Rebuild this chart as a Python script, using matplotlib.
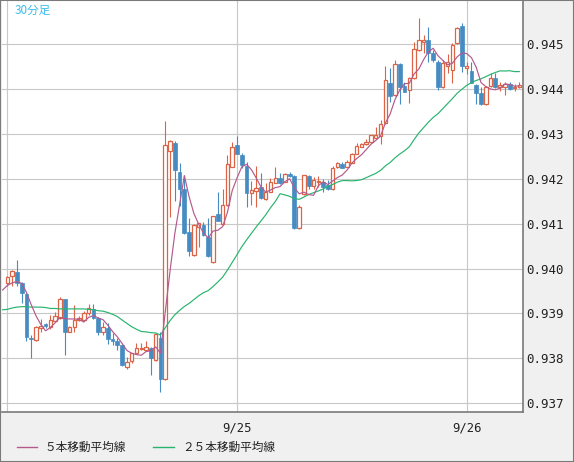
import numpy as np
import pandas as pd
import matplotlib
matplotlib.use('Agg')
import matplotlib.pyplot as plt
from matplotlib.lines import Line2D
from matplotlib.patches import Rectangle

# 30-minute candles (OHLC)
opens = [0.93967, 0.93983, 0.93992, 0.93967, 0.93944, 0.93845, 0.93841, 0.93867, 0.93876, 0.93870,
         0.93884, 0.93889, 0.93931, 0.93859, 0.93869, 0.93886, 0.93885, 0.93901, 0.93910, 0.93889,
         0.93859, 0.93867, 0.93842, 0.93839, 0.93830, 0.93781, 0.93793, 0.93812, 0.93820, 0.93818,
         0.93822, 0.93796, 0.93846, 0.93755, 0.94262, 0.94280, 0.94216, 0.94177, 0.94081, 0.94031,
         0.94092, 0.94098, 0.94071, 0.94015, 0.94121, 0.94099, 0.94141, 0.94227, 0.94275, 0.94253,
         0.94228, 0.94168, 0.94173, 0.94181, 0.94154, 0.94171, 0.94191, 0.94201, 0.94193, 0.94210,
         0.94206, 0.94090, 0.94165, 0.94206, 0.94184, 0.94192, 0.94193, 0.94187, 0.94176, 0.94225,
         0.94233, 0.94226, 0.94236, 0.94255, 0.94271, 0.94277, 0.94281, 0.94290, 0.94295, 0.94323,
         0.94414, 0.94386, 0.94455, 0.94406, 0.94398, 0.94424, 0.94486, 0.94505, 0.94510, 0.94481,
         0.94461, 0.94404, 0.94451, 0.94442, 0.94502, 0.94540, 0.94446, 0.94439, 0.94409, 0.94390,
         0.94366, 0.94406, 0.94424, 0.94404, 0.94404, 0.94410, 0.94403, 0.94404]
highs = [0.93984, 0.93996, 0.94019, 0.93971, 0.93945, 0.93851, 0.93872, 0.93887, 0.93879, 0.93896,
         0.93903, 0.93936, 0.93932, 0.93872, 0.93919, 0.93894, 0.93905, 0.93922, 0.93922, 0.93892,
         0.93881, 0.93878, 0.93856, 0.93845, 0.93831, 0.93804, 0.93812, 0.93833, 0.93833, 0.93839,
         0.93826, 0.93856, 0.93859, 0.94329, 0.94287, 0.94284, 0.94234, 0.94208, 0.94112, 0.94099,
         0.94102, 0.94104, 0.94112, 0.94117, 0.94171, 0.94176, 0.94253, 0.94282, 0.94296, 0.94257,
         0.94237, 0.94194, 0.94229, 0.94212, 0.94190, 0.94202, 0.94225, 0.94212, 0.94212, 0.94216,
         0.94208, 0.94141, 0.94209, 0.94208, 0.94203, 0.94206, 0.94199, 0.94197, 0.94228, 0.94238,
         0.94238, 0.94242, 0.94258, 0.94279, 0.94280, 0.94288, 0.94298, 0.94316, 0.94331, 0.94450,
         0.94446, 0.94464, 0.94457, 0.94416, 0.94427, 0.94505, 0.94557, 0.94520, 0.94539, 0.94487,
         0.94464, 0.94464, 0.94478, 0.94502, 0.94539, 0.94547, 0.94461, 0.94461, 0.94412, 0.94404,
         0.94406, 0.94435, 0.94436, 0.94416, 0.94416, 0.94416, 0.94412, 0.94416]
lows = [0.93961, 0.93961, 0.93960, 0.93923, 0.93839, 0.93800, 0.93839, 0.93859, 0.93868, 0.93865,
        0.93883, 0.93888, 0.93808, 0.93858, 0.93858, 0.93883, 0.93884, 0.93896, 0.93888, 0.93851,
        0.93852, 0.93832, 0.93830, 0.93818, 0.93783, 0.93776, 0.93790, 0.93811, 0.93818, 0.93817,
        0.93763, 0.93794, 0.93726, 0.93752, 0.94115, 0.94151, 0.94139, 0.94077, 0.94028, 0.94028,
        0.94047, 0.94072, 0.94026, 0.94012, 0.94105, 0.94097, 0.94140, 0.94226, 0.94255, 0.94224,
        0.94138, 0.94141, 0.94137, 0.94155, 0.94153, 0.94170, 0.94190, 0.94188, 0.94192, 0.94204,
        0.94088, 0.94088, 0.94164, 0.94176, 0.94176, 0.94182, 0.94171, 0.94175, 0.94175, 0.94224,
        0.94223, 0.94225, 0.94235, 0.94254, 0.94270, 0.94276, 0.94280, 0.94288, 0.94277, 0.94322,
        0.94371, 0.94384, 0.94366, 0.94393, 0.94369, 0.94422, 0.94484, 0.94479, 0.94461, 0.94461,
        0.94398, 0.94402, 0.94436, 0.94414, 0.94500, 0.94438, 0.94433, 0.94413, 0.94366, 0.94365,
        0.94364, 0.94405, 0.94401, 0.94396, 0.94386, 0.94398, 0.94396, 0.94401]
closes = [0.93980, 0.93994, 0.93968, 0.93945, 0.93848, 0.93842, 0.93870, 0.93873, 0.93873, 0.93885,
          0.93894, 0.93931, 0.93859, 0.93869, 0.93885, 0.93889, 0.93902, 0.93911, 0.93889, 0.93859,
          0.93869, 0.93842, 0.93839, 0.93830, 0.93785, 0.93791, 0.93811, 0.93824, 0.93823, 0.93826,
          0.93800, 0.93854, 0.93755, 0.94275, 0.94284, 0.94219, 0.94176, 0.94080, 0.94040, 0.94097,
          0.94101, 0.94075, 0.94028, 0.94116, 0.94106, 0.94141, 0.94233, 0.94271, 0.94256, 0.94231,
          0.94169, 0.94175, 0.94179, 0.94156, 0.94171, 0.94193, 0.94202, 0.94190, 0.94210, 0.94205,
          0.94090, 0.94137, 0.94208, 0.94183, 0.94197, 0.94196, 0.94182, 0.94177, 0.94223, 0.94235,
          0.94224, 0.94237, 0.94255, 0.94273, 0.94277, 0.94282, 0.94297, 0.94297, 0.94322, 0.94420,
          0.94384, 0.94455, 0.94405, 0.94394, 0.94424, 0.94488, 0.94510, 0.94510, 0.94481, 0.94464,
          0.94405, 0.94458, 0.94460, 0.94498, 0.94535, 0.94450, 0.94451, 0.94414, 0.94390, 0.94366,
          0.94405, 0.94424, 0.94405, 0.94409, 0.94412, 0.94399, 0.94405, 0.94409]

# moving-average values before enough candles are on screen (index -1 onwards)
ma5_head = [0.93952, 0.93962, 0.93968, 0.93971, 0.93967]
ma25_head = [0.93908, 0.93909, 0.93912, 0.93914, 0.93915, 0.93915, 0.93914, 0.93914, 0.93914,
             0.93913, 0.93911, 0.93911, 0.93910, 0.93910, 0.93910, 0.93910, 0.93910, 0.93910,
             0.93909, 0.93908, 0.93906, 0.93905, 0.93902, 0.93898, 0.93893]

yticks = [0.937, 0.938, 0.939, 0.940, 0.941, 0.942, 0.943, 0.944, 0.945]
day_ticks = [0, 48, 96]
day_labels = ['', '9/25', '9/26']

RED = '#dc6446'
BLUE = '#468cc3'
PINK = '#b45a8c'
GREEN = '#28b46e'
JP = ['Noto Sans CJK JP', 'DejaVu Sans']

o = np.array(opens)
h = np.array(highs)
l = np.array(lows)
c = np.array(closes)
x = np.arange(len(c))
up = c >= o

s = pd.Series(c)
n5 = len(ma5_head) - 1
n25 = len(ma25_head) - 1
ma5_x = np.concatenate([np.arange(-1, n5), x[n5:]])
ma5_y = np.concatenate([ma5_head, s.rolling(5).mean().values[n5:]])
ma25_x = np.concatenate([np.arange(-1, n25), x[n25:]])
ma25_y = np.concatenate([ma25_head, s.rolling(25).mean().values[n25:]])

fig = plt.figure(figsize=(5.74, 4.62), dpi=100)
fig.patch.set_facecolor('#f0f0f0')
ax = fig.add_axes([1.5 / 574, 50 / 462, 521.5 / 574, 411 / 462])
ax.set_facecolor('white')

ax.vlines(x, l, h, colors=[RED if u else BLUE for u in up], lw=0.8, zorder=2)
ax.bar(x[up], c[up] - o[up], bottom=o[up], width=0.72, facecolor='white',
       edgecolor=RED, lw=0.9, zorder=3)
ax.bar(x[~up], o[~up] - c[~up], bottom=c[~up], width=0.8, facecolor=BLUE,
       edgecolor=BLUE, lw=0.5, zorder=3)

ax.plot(ma25_x, ma25_y, color=GREEN, lw=0.85, zorder=4)
ax.plot(ma5_x, ma5_y, color=PINK, lw=0.85, zorder=4)

ax.set_xlim(-1.21, 107.77)
ax.set_ylim(0.936804, 0.945958)
ax.set_yticks(yticks)
ax.set_yticklabels(['%.3f' % v for v in yticks])
ax.set_xticks(day_ticks)
ax.set_xticklabels(day_labels)
ax.yaxis.tick_right()
ax.tick_params(axis='y', length=0, pad=2.5, labelsize=9, labelcolor='#222222')
ax.tick_params(axis='x', length=0, pad=7, labelsize=8.8, labelcolor='#222222')
for lab in ax.get_xticklabels() + ax.get_yticklabels():
    lab.set_family('DejaVu Sans Mono')
ax.grid(True, color='#c8c8c8', lw=0.8, zorder=0)
ax.set_axisbelow(True)
for side in ['left', 'top']:
    ax.spines[side].set_visible(False)
for side in ['right', 'bottom']:
    ax.spines[side].set_color('#7a7a7a')
    ax.spines[side].set_linewidth(1.2)

fig.text(15 / 574, 1 - 10 / 462, '30分足', color='#3cbcec', fontsize=8.4,
         family=JP, ha='left', va='center')

# legend
ly = 1 - 447 / 462
fig.add_artist(Line2D([16.5 / 574, 36.5 / 574], [ly, ly], color=PINK, lw=1))
fig.text(44.5 / 574, ly, '５本移動平均線', fontsize=8.4, family=JP,
         ha='left', va='center', color='#222222')
fig.add_artist(Line2D([153 / 574, 174 / 574], [ly, ly], color=GREEN, lw=1))
fig.text(182.5 / 574, ly, '２５本移動平均線', fontsize=8.4, family=JP,
         ha='left', va='center', color='#222222')

fig.add_artist(Rectangle((0, 0), 1, 1, transform=fig.transFigure, fill=False,
                         edgecolor='#7a7a7a', lw=1.5))

fig.savefig('out.png', dpi=100, facecolor=fig.get_facecolor())
